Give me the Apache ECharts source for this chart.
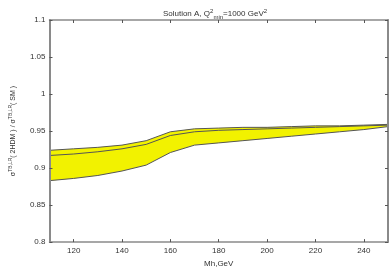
<!DOCTYPE html>
<html><head><meta charset="utf-8">
<script src="https://cdn.jsdelivr.net/npm/echarts@6/dist/echarts.min.js"></script>
<style>html,body{margin:0;padding:0;background:#fff}#c{width:392px;height:273px}</style>
</head><body><div id="c"></div>
<script>
const mh = [110,120,130,140,150,160,170,180,190,200,210,220,230,240,250];
const upper = [0.924,0.926,0.928,0.931,0.937,0.949,0.953,0.954,0.955,0.955,0.956,0.957,0.957,0.958,0.959];
const middle = [0.917,0.919,0.922,0.926,0.932,0.944,0.949,0.951,0.952,0.953,0.954,0.955,0.956,0.957,0.958];
const lower = [0.883,0.886,0.890,0.896,0.904,0.921,0.931,0.934,0.937,0.940,0.943,0.946,0.949,0.952,0.956];
const xTicks = [120,140,160,180,200,220,240];

const pair = (xs, ys) => xs.map((x,i)=>[x, ys[i]]);
const frame = '#8a8a8a';
const txt = '#333';
const chart = echarts.init(document.getElementById('c'));
chart.setOption({
  animation:false,
  title:{
    text:'Solution A, Q{sup|2}{sub|min}=1000 GeV{sup|2}',
    left:210, top:3, textAlign:'center',
    textStyle:{fontSize:8, fontWeight:'normal', color:txt, fontFamily:'Liberation Sans', lineHeight:12,
      rich:{sup:{fontSize:6, verticalAlign:'top', lineHeight:12, color:txt},
            sub:{fontSize:6, verticalAlign:'bottom', lineHeight:12, color:txt}}}
  },
  grid:{left:32, right:4, top:20, bottom:18},
  xAxis:[{
    type:'value', min:110, max:250, interval:10, z:10,
    name:'Mh,GeV', nameLocation:'middle', nameGap:12,
    nameTextStyle:{fontSize:8, color:txt, fontFamily:'Liberation Sans'},
    axisLine:{show:true, lineStyle:{color:frame, width:1.5}},
    axisTick:{show:true, inside:true, length:3, customValues:xTicks, lineStyle:{color:'#555'}},
    axisLabel:{fontSize:8, color:txt, margin:5, customValues:xTicks, fontFamily:'Liberation Sans'},
    splitLine:{show:false}
  },{
    type:'value', position:'top', min:110, max:250, interval:10, z:10,
    axisLine:{show:true, onZero:false, lineStyle:{color:frame, width:1.5}},
    axisTick:{show:true, inside:true, length:3, customValues:xTicks, lineStyle:{color:'#555'}},
    axisLabel:{show:false}, splitLine:{show:false}
  }],
  yAxis:[{
    type:'value', min:0.8, max:1.1, interval:0.05, z:10,
    name:'σ{sup|TB,LR}( 2HDM ) / σ{sup|TB,LR}( SM )', nameLocation:'middle', nameGap:20, nameRotate:90,
    nameTextStyle:{fontSize:7, color:txt, fontFamily:'Liberation Sans', lineHeight:11,
      rich:{sup:{fontSize:5, verticalAlign:'top', lineHeight:11, color:txt}}},
    axisLine:{show:true, lineStyle:{color:frame, width:2}},
    axisTick:{show:true, inside:true, length:3, lineStyle:{color:'#555'}},
    axisLabel:{fontSize:8, color:txt, margin:4, fontFamily:'Liberation Sans'},
    splitLine:{show:false}
  },{
    type:'value', position:'right', min:0.8, max:1.1, interval:0.05, z:10,
    axisLine:{show:true, onZero:false, lineStyle:{color:frame, width:2}},
    axisTick:{show:true, inside:true, length:3, lineStyle:{color:'#555'}},
    axisLabel:{show:false}, splitLine:{show:false}
  }],
  series:[
    {type:'line', data:pair(mh, upper), symbol:'none', z:1, lineStyle:{opacity:0},
      areaStyle:{color:'#f2f200', opacity:1, origin:'start'}, silent:true},
    {type:'line', data:pair(mh, lower), symbol:'none', z:1, lineStyle:{opacity:0},
      areaStyle:{color:'#ffffff', opacity:1, origin:'start'}, silent:true},
    {type:'line', data:pair(mh, lower), symbol:'none', z:3, lineStyle:{color:'#555', width:1}},
    {type:'line', data:pair(mh, upper), symbol:'none', z:3, lineStyle:{color:'#555', width:1}},
    {type:'line', data:pair(mh, middle), symbol:'none', z:3, lineStyle:{color:'#555', width:1}}
  ]
});
</script></body></html>
